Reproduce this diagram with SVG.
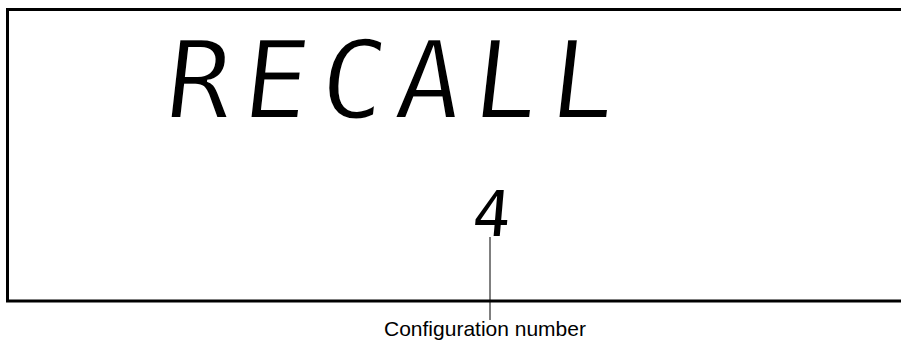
<svg xmlns="http://www.w3.org/2000/svg" width="901" height="341" viewBox="0 0 901 341">
<style>
.frame{fill:none;stroke:#000;stroke-width:3}
.lcd{font-family:"DejaVu Sans Mono","Liberation Mono",monospace;fill:#000}
.thin{stroke:#fff;stroke-width:2}
.cap{font-family:"Liberation Sans",Arial,sans-serif;font-size:21px;fill:#000}
.lead{stroke:#000;stroke-width:1;fill:none}
</style>
<g id="display">
<path class="frame" d="M901 9.5H7.5V301H901"/>
<g id="recall" transform="translate(0,118) skewX(-6.5)">
<text class="lcd thin" font-size="108" x="163 240 317 393 470 547" y="0">RECALL</text>
</g>
<g id="config-value" transform="translate(0,236) skewX(-5)">
<text class="lcd" font-size="63" x="490" y="0" text-anchor="middle">4</text>
</g>
</g>
<g id="connectors">
<line class="lead" x1="490" y1="237" x2="490" y2="320"/>
</g>
<g id="label">
<text class="cap" x="485" y="336" text-anchor="middle">Configuration number</text>
</g>
</svg>
